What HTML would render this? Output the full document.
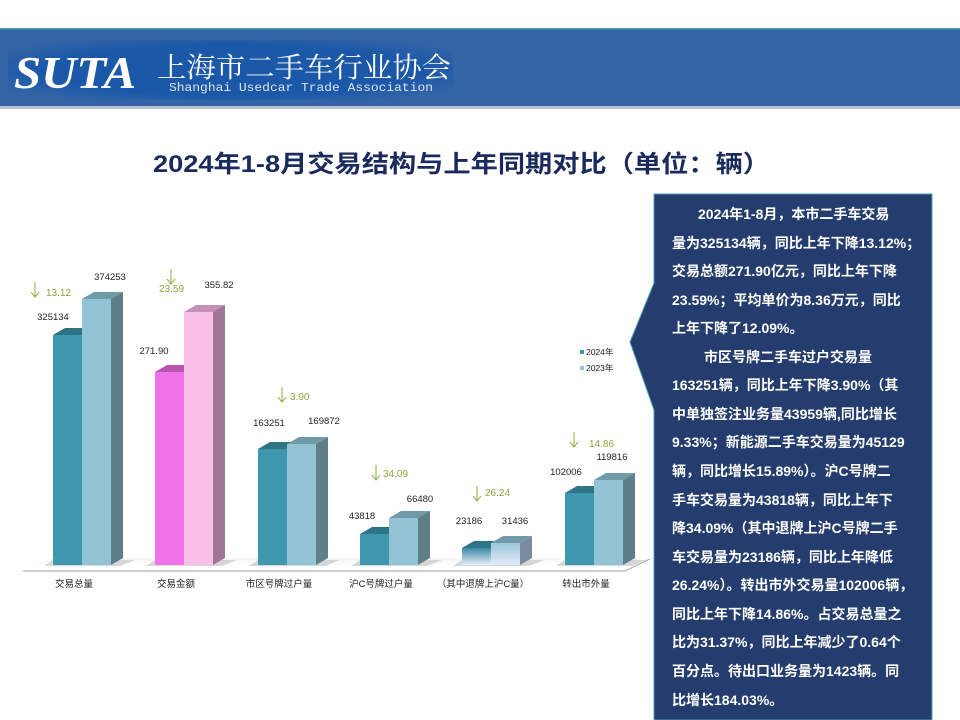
<!DOCTYPE html>
<html><head><meta charset="utf-8"><style>
html,body{margin:0;padding:0;background:#fff;}
svg{display:block;font-family:"Liberation Sans","Noto Sans CJK SC",sans-serif;}
</style></head><body>
<svg width="960" height="720" viewBox="0 0 960 720" xmlns="http://www.w3.org/2000/svg">
<defs>
<linearGradient id="ff" x1="0" y1="0" x2="0" y2="1"><stop offset="0" stop-color="#f4f4f4"/><stop offset="1" stop-color="#fff"/></linearGradient>
<linearGradient id="g5a" x1="0" y1="0" x2="0" y2="1"><stop offset="0" stop-color="#3a8aa6"/><stop offset="1" stop-color="#e8eef8"/></linearGradient>
<linearGradient id="g5b" x1="0" y1="0" x2="0" y2="1"><stop offset="0" stop-color="#9ac8dc"/><stop offset="1" stop-color="#e4eaf8"/></linearGradient>
<radialGradient id="lg" cx="0.5" cy="0.5" r="0.6"><stop offset="0.7" stop-color="#1b58a8"/><stop offset="1" stop-color="#3264a6"/></radialGradient>
</defs>
<rect x="0" y="28" width="960" height="79" fill="#3264a6"/>
<rect x="0" y="28" width="960" height="1.5" fill="#4aa0b0"/>
<rect x="0" y="106" width="960" height="3" fill="#b8c0cc"/>
<rect x="8" y="40" width="445" height="60" fill="url(#lg)"/>
<text x="14" y="88" font-family="Liberation Serif,serif" font-style="italic" font-weight="bold" font-size="46" fill="#fff" textLength="122" lengthAdjust="spacingAndGlyphs">SUTA</text>
<text x="157" y="77" font-family="Liberation Serif,'Noto Serif CJK SC',serif" font-size="28" fill="#fff" textLength="294" lengthAdjust="spacingAndGlyphs">上海市二手车行业协会</text>
<text x="169" y="91" font-family="Liberation Mono,monospace" font-size="12" fill="#dde6f2" textLength="264" lengthAdjust="spacingAndGlyphs">Shanghai Usedcar Trade Association</text>
<text x="153" y="172" font-weight="bold" font-size="24" fill="#1a2a5c" textLength="617" lengthAdjust="spacingAndGlyphs">2024年1-8月交易结构与上年同期对比（单位：辆）</text>
<polygon points="30,566 52,558 640,558 625,566" fill="url(#ff)"/>
<line x1="23" y1="571" x2="625" y2="571" stroke="#999" stroke-width="1"/>
<line x1="625" y1="571" x2="650" y2="559" stroke="#aaa" stroke-width="1"/>
<g fill="#c8c8c8" opacity="0.7">
<polygon points="44,566 53,560 135,560 120,566"/>
<polygon points="146,566 155,560 237,560 222,566"/>
<polygon points="249,566 258,560 340,560 325,566"/>
<polygon points="351,566 360,560 442,560 427,566"/>
<polygon points="453,566 462,560 544,560 529,566"/>
<polygon points="556,566 565,560 647,560 632,566"/>
</g>
<g>
<polygon points="53,335 65,328 94,328 82,335" fill="#2f7386"/><rect x="53" y="335" width="29" height="230" fill="#3e97ae"/>
<polygon points="82,299 94,292 123,292 111,299" fill="#6f9aa8"/><rect x="82" y="299" width="29" height="266" fill="#93c4d6"/><polygon points="111,299 123,292 123,558 111,565" fill="#5e7e88"/>
<polygon points="155,372 167,365 196,365 184,372" fill="#b955b0"/><rect x="155" y="372" width="29" height="193" fill="#ef73e8"/>
<polygon points="184,312 196,305 225,305 213,312" fill="#c48fb8"/><rect x="184" y="312" width="29" height="253" fill="#f8c0e8"/><polygon points="213,312 225,305 225,558 213,565" fill="#9e7892"/>
<polygon points="258,449 270,442 299,442 287,449" fill="#2f7386"/><rect x="258" y="449" width="29" height="116" fill="#3e97ae"/>
<polygon points="287,444 299,437 328,437 316,444" fill="#6f9aa8"/><rect x="287" y="444" width="29" height="121" fill="#93c4d6"/><polygon points="316,444 328,437 328,558 316,565" fill="#5e7e88"/>
<polygon points="360,534 372,527 401,527 389,534" fill="#2f7386"/><rect x="360" y="534" width="29" height="31" fill="#3e97ae"/>
<polygon points="389,518 401,511 430,511 418,518" fill="#6f9aa8"/><rect x="389" y="518" width="29" height="47" fill="#93c4d6"/><polygon points="418,518 430,511 430,558 418,565" fill="#5e7e88"/>
<polygon points="462,548 474,541 503,541 491,548" fill="#2f7386"/><rect x="462" y="548" width="29" height="17" fill="url(#g5a)"/>
<polygon points="491,543 503,536 532,536 520,543" fill="#6f9aa8"/><rect x="491" y="543" width="29" height="22" fill="url(#g5b)"/><polygon points="520,543 532,536 532,558 520,565" fill="#7a8aa0"/>
<polygon points="565,493 577,486 606,486 594,493" fill="#2f7386"/><rect x="565" y="493" width="29" height="72" fill="#3e97ae"/>
<polygon points="594,480 606,473 635,473 623,480" fill="#6f9aa8"/><rect x="594" y="480" width="29" height="85" fill="#93c4d6"/><polygon points="623,480 635,473 635,558 623,565" fill="#5e7e88"/>
</g>
<g font-size="9.5" fill="#222" text-anchor="middle">
<text x="53" y="320">325134</text><text x="110" y="280">374253</text>
<text x="154" y="354">271.90</text><text x="219" y="288">355.82</text>
<text x="269" y="426">163251</text><text x="324" y="424">169872</text>
<text x="362" y="519">43818</text><text x="420" y="502">66480</text>
<text x="469" y="524">23186</text><text x="515" y="524">31436</text>
<text x="566" y="475">102006</text><text x="612" y="460">119816</text>
</g>
<g font-size="10" fill="#8aa83a">
<text x="46" y="296">13.12</text><text x="159" y="292">23.59</text>
<text x="290" y="400">3.90</text><text x="383" y="477">34.09</text>
<text x="485" y="496">26.24</text><text x="589" y="447">14.86</text>
</g>
<g stroke="#8aa83a" stroke-width="1" fill="none">
<path d="M35,282 V296 M31,292 L35,297 L39,292"/>
<path d="M171,269 V283 M167,279 L171,284 L175,279"/>
<path d="M282,387 V401 M278,397 L282,402 L286,397"/>
<path d="M376,465 V479 M372,475 L376,480 L380,475"/>
<path d="M477,486 V500 M473,496 L477,501 L481,496"/>
<path d="M574,432 V446 M570,442 L574,447 L578,442"/>
</g>
<rect x="580" y="350" width="4" height="4" fill="#3e97ae"/><text x="586" y="355" font-size="8.5" fill="#222">2024年</text>
<rect x="580" y="366" width="4" height="4" fill="#93c4d6"/><text x="586" y="371" font-size="8.5" fill="#222">2023年</text>
<g font-size="9.5" fill="#222" text-anchor="middle">
<text x="74" y="587">交易总量</text><text x="176" y="587">交易金额</text>
<text x="279" y="587">市区号牌过户量</text><text x="381" y="587">沪C号牌过户量</text>
<text x="483" y="587">（其中退牌上沪C量）</text><text x="586" y="587">转出市外量</text>
</g>
<polygon points="654,194 932,194 932,720 654,720 654,410 630,342 654,283" fill="#243d6e" stroke="#4aa0b0" stroke-width="1"/>
<g font-size="14" font-weight="bold" fill="#fff">
<text x="698" y="219">2024年1-8月，本市二手车交易</text>
<text x="672" y="248">量为325134辆，同比上年下降13.12%；</text>
<text x="672" y="276">交易总额271.90亿元，同比上年下降</text>
<text x="672" y="305">23.59%；平均单价为8.36万元，同比</text>
<text x="672" y="333">上年下降了12.09%。</text>
<text x="704" y="362">市区号牌二手车过户交易量</text>
<text x="672" y="390">163251辆，同比上年下降3.90%（其</text>
<text x="672" y="419">中单独签注业务量43959辆,同比增长</text>
<text x="672" y="447">9.33%；新能源二手车交易量为45129</text>
<text x="672" y="476">辆，同比增长15.89%）。沪C号牌二</text>
<text x="672" y="505">手车交易量为43818辆，同比上年下</text>
<text x="672" y="533">降34.09%（其中退牌上沪C号牌二手</text>
<text x="672" y="562">车交易量为23186辆，同比上年降低</text>
<text x="672" y="590">26.24%）。转出市外交易量102006辆，</text>
<text x="672" y="619">同比上年下降14.86%。占交易总量之</text>
<text x="672" y="647">比为31.37%，同比上年减少了0.64个</text>
<text x="672" y="676">百分点。待出口业务量为1423辆。同</text>
<text x="672" y="705">比增长184.03%。</text>
</g>
</svg>
</body></html>
